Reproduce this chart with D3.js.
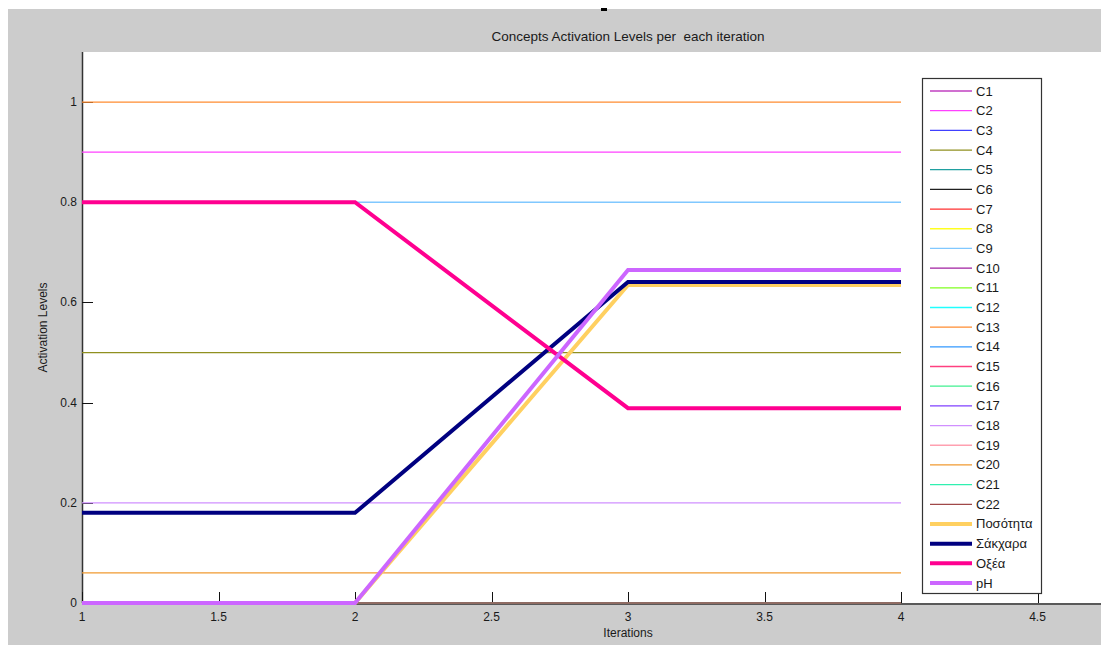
<!DOCTYPE html>
<html>
<head>
<meta charset="utf-8">
<script src="https://cdn.jsdelivr.net/npm/d3@7"></script>
<style>
  html, body { margin: 0; padding: 0; background: #ffffff; }
  svg { display: block; }
  text { font-family: "Liberation Sans", Arial, sans-serif; fill: #1a1a1a; }
</style>
</head>
<body>
<svg id="chart" width="1101" height="649"></svg>
<script>
// Iteration steps on the x axis
const iterations = [1, 2, 3, 4];

// Background concepts C1..C22 (constant activation across iterations)
const conceptNames = ["C1","C2","C3","C4","C5","C6","C7","C8","C9","C10","C11",
                      "C12","C13","C14","C15","C16","C17","C18","C19","C20","C21","C22"];
const conceptLevels = [0, 0.9, 0, 0.5, 0, 0, 0, 0, 0.8, 0, 0,
                       0, 1, 0, 0, 0, 0, 0.2, 0, 0.06, 0, 0];
const conceptColors = ["#c040c0","#ff40ff","#4040ff","#909020","#20a0a0","#202020",
                       "#ff3030","#ffff20","#80c8ff","#a020a0","#80ff20","#20ffff",
                       "#ff8c30","#3399ff","#ff4080","#40f090","#8040ff","#d090ff",
                       "#ffa0b0","#f09a30","#30f0b0","#a04848"];

// Main output concepts
const mainNames = ["Ποσότητα", "Σάκχαρα", "Οξέα", "pH"];
const posotita = [0, 0, 0.635, 0.635];
const sakxara  = [0.18, 0.18, 0.641, 0.641];
const oxea     = [0.8, 0.8, 0.389, 0.389];
const ph       = [0, 0, 0.665, 0.665];
const mainColors = ["#ffd060", "#000080", "#ff0090", "#cc66ff"];

const xTicks = [1, 1.5, 2, 2.5, 3, 3.5, 4, 4.5];
const yTicks = [0, 0.2, 0.4, 0.6, 0.8, 1];

const svg = d3.select("#chart");

// figure background
svg.append("rect").attr("x", 8).attr("y", 9).attr("width", 1093).attr("height", 636)
   .attr("fill", "#cccccc");
svg.append("rect").attr("x", 601).attr("y", 8).attr("width", 6).attr("height", 3)
   .attr("fill", "#000");

const plot = { left: 82, top: 52, right: 1174, bottom: 603 };
const x = d3.scaleLinear().domain([1, 5]).range([plot.left, plot.right]);
const y = d3.scaleLinear().domain([0, 1.1]).range([plot.bottom, plot.top]);

// axes area
svg.append("rect").attr("x", plot.left).attr("y", plot.top)
   .attr("width", 1101 - plot.left).attr("height", plot.bottom - plot.top)
   .attr("fill", "#ffffff");

// axis lines and inward ticks
const axes = svg.append("g");
axes.append("line").attr("x1", plot.left).attr("x2", 1101)
    .attr("y1", plot.bottom + 1).attr("y2", plot.bottom + 1)
    .attr("stroke", "#333").attr("stroke-width", 1.5);
axes.append("line").attr("x1", plot.left + 0.5).attr("x2", plot.left + 0.5)
    .attr("y1", plot.top).attr("y2", plot.bottom)
    .attr("stroke", "#333").attr("stroke-width", 1.5);

axes.selectAll(".xt").data(xTicks).join("line")
    .attr("x1", d => Math.round(x(d)) + 0.5).attr("x2", d => Math.round(x(d)) + 0.5)
    .attr("y1", plot.bottom).attr("y2", plot.bottom - 11)
    .attr("stroke", "#111").attr("stroke-width", 1);
axes.selectAll(".yt").data(yTicks).join("line")
    .attr("x1", plot.left).attr("x2", plot.left + 11)
    .attr("y1", d => Math.round(y(d)) + 0.5).attr("y2", d => Math.round(y(d)) + 0.5)
    .attr("stroke", "#111").attr("stroke-width", 1);

axes.selectAll(".xl").data(xTicks).join("text")
    .attr("x", d => x(d)).attr("y", 621)
    .attr("text-anchor", "middle").attr("font-size", 12)
    .text(d => d3.format("")(d));
axes.selectAll(".yl").data(yTicks).join("text")
    .attr("x", 77).attr("y", d => y(d) + 4)
    .attr("text-anchor", "end").attr("font-size", 12)
    .text(d => d3.format("")(d));

// titles
svg.append("text").attr("x", x(3)).attr("y", 41).attr("text-anchor", "middle")
   .attr("font-size", 13.5).attr("xml:space", "preserve")
   .text("Concepts Activation Levels per  each iteration");
svg.append("text").attr("x", x(3)).attr("y", 637).attr("text-anchor", "middle")
   .attr("font-size", 12).text("Iterations");
svg.append("text").attr("transform", `translate(47,${(plot.top + plot.bottom) / 2}) rotate(-90)`)
   .attr("text-anchor", "middle").attr("font-size", 12).text("Activation Levels");

// series lines
const line = d3.line().x(d => x(d[0])).y(d => y(d[1]));
const lines = svg.append("g").attr("fill", "none").attr("stroke-linejoin", "miter");

conceptNames.forEach((name, i) => {
  const pts = iterations.map(it => [it, conceptLevels[i]]);
  lines.append("path").attr("d", line(pts))
       .attr("stroke", conceptColors[i]).attr("stroke-width", 1.3);
});

const mainSeries = [posotita, sakxara, oxea, ph];
mainSeries.forEach((vals, i) => {
  const pts = iterations.map((it, j) => [it, vals[j]]);
  lines.append("path").attr("d", line(pts))
       .attr("stroke", mainColors[i]).attr("stroke-width", 4);
});

// legend
const legend = svg.append("g");
legend.append("rect").attr("x", 922.5).attr("y", 78.5).attr("width", 119).attr("height", 515)
      .attr("fill", "#ffffff").attr("stroke", "#333").attr("stroke-width", 1.2);

const legendItems = conceptNames.map((n, i) => ({ name: n, color: conceptColors[i], w: 1.3 }))
  .concat(mainNames.map((n, i) => ({ name: n, color: mainColors[i], w: 4 })));
const rowH = 19.68;
legendItems.forEach((item, i) => {
  const yy = 91 + i * rowH;
  legend.append("line").attr("x1", 930).attr("x2", 972).attr("y1", yy).attr("y2", yy)
        .attr("stroke", item.color).attr("stroke-width", item.w);
  legend.append("text").attr("x", 976).attr("y", yy + 4.5).attr("font-size", 13)
        .text(item.name);
});
</script>
</body>
</html>
